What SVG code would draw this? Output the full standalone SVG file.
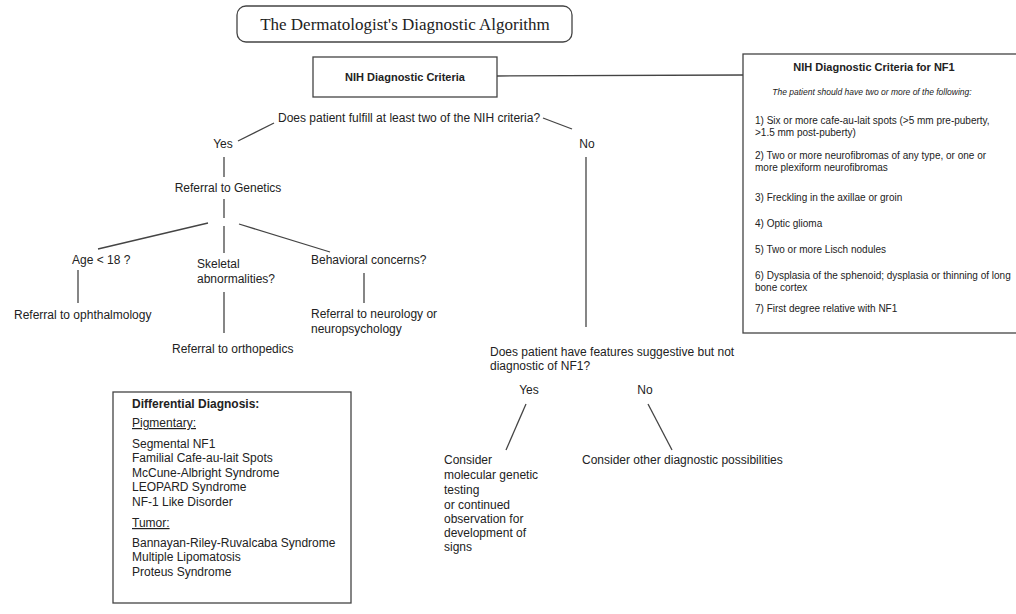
<svg xmlns="http://www.w3.org/2000/svg" width="1016" height="614" viewBox="0 0 1016 614">
<style>
text{font-family:"Liberation Sans",Arial,sans-serif;fill:#222;}
.t{font-size:12px;}
.s{font-size:10px;}
.b{font-weight:bold;}
.box{fill:#fff;stroke:#444;stroke-width:1.3;}
.c{stroke:#444;stroke-width:1.3;fill:none;}
</style>
<rect x="0" y="0" width="1016" height="614" fill="#fff"/>
<g id="title">
<rect class="box" x="237" y="6" width="335" height="36" rx="9"/>
<text x="405" y="30" text-anchor="middle" style="font-family:'Liberation Serif','Times New Roman',serif;font-size:17px;">The Dermatologist's Diagnostic Algorithm</text>
</g>
<g id="connectors">
<line class="c" x1="497" y1="76" x2="743" y2="75"/>
<line class="c" x1="274" y1="123" x2="238" y2="141"/>
<line class="c" x1="543" y1="118" x2="572" y2="129"/>
<line class="c" x1="224" y1="157" x2="224" y2="177"/>
<line class="c" x1="224" y1="199" x2="224" y2="218"/>
<line class="c" x1="208" y1="223" x2="98" y2="249"/>
<line class="c" x1="224" y1="226" x2="224" y2="253"/>
<line class="c" x1="239" y1="224" x2="330" y2="252"/>
<line class="c" x1="78" y1="270" x2="78" y2="303"/>
<line class="c" x1="224" y1="292" x2="224" y2="333"/>
<line class="c" x1="364" y1="273" x2="364" y2="303"/>
<line class="c" x1="586" y1="157" x2="586" y2="327"/>
<line class="c" x1="526" y1="404" x2="506" y2="450"/>
<line class="c" x1="648" y1="404" x2="672" y2="450"/>
</g>
<g id="nih">
<rect class="box" x="313" y="57" width="184" height="40"/>
<text class="b" x="405" y="81" text-anchor="middle" style="font-size:11px;">NIH Diagnostic Criteria</text>
</g>
<g id="q1"><text class="t" x="278" y="122">Does patient fulfill at least two of the NIH criteria?</text></g>
<g id="yes1"><text class="t" x="223" y="148" text-anchor="middle">Yes</text></g>
<g id="no1"><text class="t" x="587" y="148" text-anchor="middle">No</text></g>
<g id="genetics"><text class="t" x="228" y="192" text-anchor="middle">Referral to Genetics</text></g>
<g id="age"><text class="t" x="72" y="264">Age &lt; 18 ?</text></g>
<g id="skeletal"><text class="t" x="197" y="268">Skeletal</text><text class="t" x="197" y="283">abnormalities?</text></g>
<g id="behavioral"><text class="t" x="311" y="264">Behavioral concerns?</text></g>
<g id="ophth"><text class="t" x="14" y="319">Referral to ophthalmology</text></g>
<g id="ortho"><text class="t" x="172" y="353">Referral to orthopedics</text></g>
<g id="neuro"><text class="t" x="311" y="318">Referral to neurology or</text><text class="t" x="311" y="333">neuropsychology</text></g>
<g id="q2"><text class="t" x="490" y="356">Does patient have features suggestive but not</text><text class="t" x="490" y="370">diagnostic of NF1?</text></g>
<g id="yes2"><text class="t" x="529" y="394" text-anchor="middle">Yes</text></g>
<g id="no2"><text class="t" x="645" y="394" text-anchor="middle">No</text></g>
<g id="molecular">
<text class="t" x="444" y="464">Consider</text>
<text class="t" x="444" y="479">molecular genetic</text>
<text class="t" x="444" y="494">testing</text>
<text class="t" x="444" y="509">or continued</text>
<text class="t" x="444" y="523">observation for</text>
<text class="t" x="444" y="537">development of</text>
<text class="t" x="444" y="551">signs</text>
</g>
<g id="other"><text class="t" x="582" y="464">Consider other diagnostic possibilities</text></g>
<g id="criteria">
<rect class="box" x="743" y="54" width="290" height="279"/>
<text class="b" x="874" y="71" text-anchor="middle" style="font-size:11px;">NIH Diagnostic Criteria for NF1</text>
<text x="872" y="95" text-anchor="middle" style="font-size:8.5px;font-style:italic;">The patient should have two or more of the following:</text>
<text class="s" x="755" y="124">1) Six or more cafe-au-lait spots (&gt;5 mm pre-puberty,</text>
<text class="s" x="755" y="136">&gt;1.5 mm post-puberty)</text>
<text class="s" x="755" y="159">2) Two or more neurofibromas of any type, or one or</text>
<text class="s" x="755" y="171">more plexiform neurofibromas</text>
<text class="s" x="755" y="201">3) Freckling in the axillae or groin</text>
<text class="s" x="755" y="227">4) Optic glioma</text>
<text class="s" x="755" y="253">5) Two or more Lisch nodules</text>
<text class="s" x="755" y="279">6) Dysplasia of the sphenoid; dysplasia or thinning of long</text>
<text class="s" x="755" y="291">bone cortex</text>
<text class="s" x="755" y="312">7) First degree relative with NF1</text>
</g>
<g id="differential">
<rect class="box" x="113" y="392" width="238" height="211"/>
<text class="t b" x="132" y="408">Differential Diagnosis:</text>
<text class="t" x="132" y="427" text-decoration="underline">Pigmentary:</text>
<text class="t" x="132" y="448">Segmental NF1</text>
<text class="t" x="132" y="462">Familial Cafe-au-lait Spots</text>
<text class="t" x="132" y="477">McCune-Albright Syndrome</text>
<text class="t" x="132" y="491">LEOPARD Syndrome</text>
<text class="t" x="132" y="506">NF-1 Like Disorder</text>
<text class="t" x="132" y="527" text-decoration="underline">Tumor:</text>
<text class="t" x="132" y="547">Bannayan-Riley-Ruvalcaba Syndrome</text>
<text class="t" x="132" y="561">Multiple Lipomatosis</text>
<text class="t" x="132" y="576">Proteus Syndrome</text>
</g>
</svg>
